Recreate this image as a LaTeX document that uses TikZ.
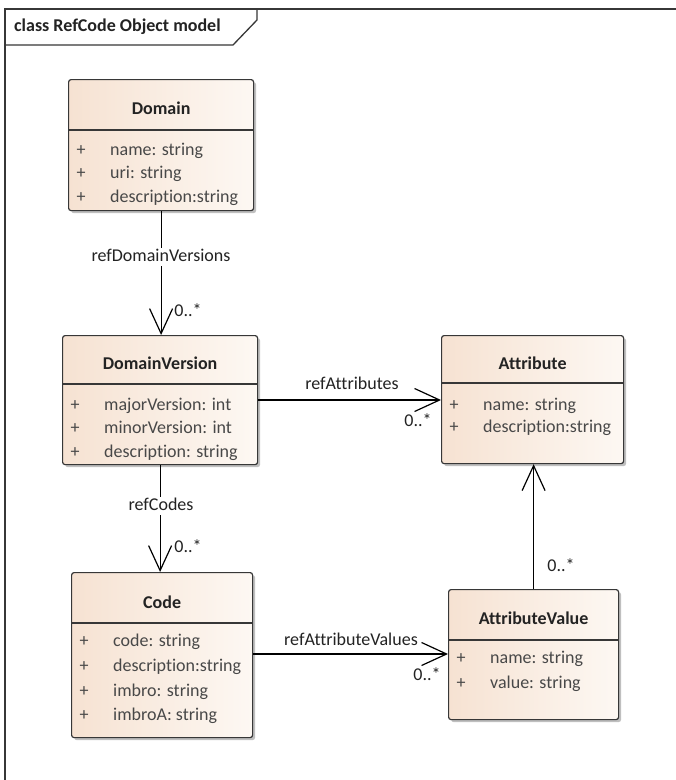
\documentclass[tikz,border=0pt]{standalone}
\usepackage{fontspec}
\setmainfont[RawFeature={-liga;-clig;-calt}]{Carlito}
\usetikzlibrary{arrows.meta,shadows,calc}
\definecolor{boxL}{RGB}{246,226,210}
\definecolor{boxR}{RGB}{253,248,243}
\definecolor{lineC}{RGB}{55,55,55}
\definecolor{attrC}{RGB}{72,72,72}
\definecolor{txtC}{RGB}{35,35,35}
\tikzset{
  cls/.style={draw=lineC, line width=1.2pt, rounded corners=2.5pt,
    left color=boxL, right color=boxR, anchor=north west, inner sep=0pt,
    drop shadow={shadow xshift=2.5pt, shadow yshift=-2.5pt, opacity=0.25, fill=black}},
  sepline/.style={draw=lineC, line width=1.2pt},
  ttl/.style={font=\fontsize{18}{21}\selectfont\bfseries, text=txtC, inner sep=0pt, text height=12pt, text depth=0pt},
  rowplus/.style={font=\fontsize{18}{21}\selectfont, text=attrC, inner sep=0pt, text height=12pt, text depth=4pt, anchor=center},
  rowtxt/.style={font=\fontsize{18}{21}\selectfont, text=attrC, inner sep=0pt, text height=12pt, text depth=4pt, anchor=west},
  lbl/.style={font=\fontsize{18}{21}\selectfont, text=txtC, inner sep=1pt, text height=12pt, text depth=4pt},
  assoc/.style={draw=black, line width=1.2pt, -{Straight Barb[length=25pt, width=23pt, line width=1.2pt]}},
  framec/.style={draw=lineC, line width=1.3pt},
}
\newcommand\clsrow[4]{%
  \node[rowplus] (#4p) at ($(#1.west |- 0,#2)+(13,0)$) {+};
  \node[rowtxt] (#4t) at ($(#1.west |- 0,#2)+(42,0)$) {#3};}
\begin{document}
\begin{tikzpicture}[x=1pt,y=-1pt]
\useasboundingbox[fill=white] (0,0) rectangle (676,780);
% frame
\draw[framec] (5,780) -- (5,9) -- (676,9);
\draw[framec] (257,9) -- (257,20) -- (233,45) -- (5,45);
\node[font=\fontsize{18}{21}\selectfont\bfseries, text=txtC, anchor=west, inner sep=0pt] (frameT) at (14,27) {class RefCode Object model};

% Domain
\node[cls, minimum width=185pt, minimum height=131pt] (dom) at (68,79) {};
\draw[sepline] (dom.west |- 0,130) -- (dom.east |- 0,130);
\node[ttl] (domT) at (dom.center |- 0,108) {Domain};
\clsrow{dom}{151}{name: string}{dom1}
\clsrow{dom}{174}{uri: string}{dom2}
\clsrow{dom}{198}{description:string}{dom3}

% DomainVersion
\node[cls, minimum width=195pt, minimum height=129pt] (dv) at (62,335) {};
\draw[sepline] (dv.west |- 0,384) -- (dv.east |- 0,384);
\node[ttl] (dvT) at (dv.center |- 0,363) {DomainVersion};
\clsrow{dv}{406}{majorVersion: int}{dv1}
\clsrow{dv}{429}{minorVersion: int}{dv2}
\clsrow{dv}{453}{description: string}{dv3}

% Attribute
\node[cls, minimum width=182pt, minimum height=128pt] (att) at (441,335) {};
\draw[sepline] (att.west |- 0,383) -- (att.east |- 0,383);
\node[ttl] (attT) at (att.center |- 0,363) {Attribute};
\clsrow{att}{406}{name: string}{at1}
\clsrow{att}{428}{description:string}{at2}

% Code
\node[cls, minimum width=181pt, minimum height=165pt] (code) at (71,572) {};
\draw[sepline] (code.west |- 0,623) -- (code.east |- 0,623);
\node[ttl] (codeT) at (code.center |- 0,602) {Code};
\clsrow{code}{642}{code: string}{cd1}
\clsrow{code}{667}{description:string}{cd2}
\clsrow{code}{692}{imbro: string}{cd3}
\clsrow{code}{716}{imbroA: string}{cd4}

% AttributeValue
\node[cls, minimum width=170pt, minimum height=130pt] (av) at (448,589) {};
\draw[sepline] (av.west |- 0,640) -- (av.east |- 0,640);
\node[ttl] (avT) at (av.center |- 0,618) {AttributeValue};
\clsrow{av}{659}{name: string}{av1}
\clsrow{av}{684}{value: string}{av2}

% connectors
\draw[assoc] (dom.south) -- (dom.south |- dv.north);
\node[lbl, fill=white] (l1) at (161,257) {refDomainVersions};
\node[lbl] (m1) at (188,312) {0..*};

\draw[assoc] (dv.south) -- (dv.south |- code.north);
\node[lbl, fill=white] (l2) at (161,506) {refCodes};
\node[lbl] (m2) at (188,548) {0..*};

\draw[assoc] (dv.east |- 0,400) -- (att.west |- 0,400);
\node[lbl] (l3) at (352,385) {refAttributes};
\node[lbl] (m3) at (418,422) {0..*};

\draw[assoc] (code.east |- 0,654) -- (av.west |- 0,654);
\node[lbl] (l4) at (351,641) {refAttributeValues};
\node[lbl] (m4) at (427,676) {0..*};

\draw[assoc] (av.north) -- (av.north |- att.south);
\node[lbl] (m5) at (561,567) {0..*};
\end{tikzpicture}
\end{document}
